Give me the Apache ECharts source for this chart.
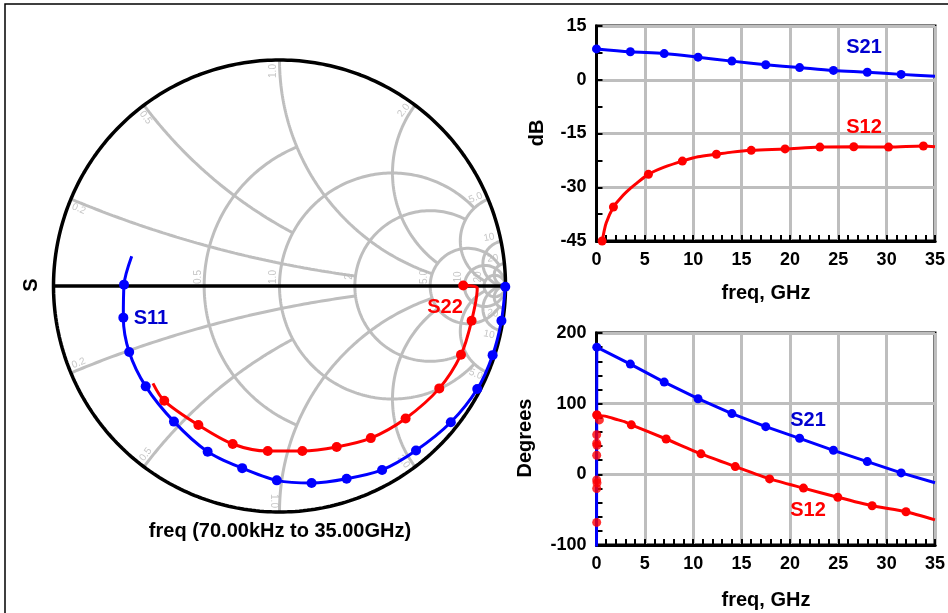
<!DOCTYPE html>
<html><head><meta charset="utf-8">
<script src="https://cdn.jsdelivr.net/npm/echarts@6.0.0/dist/echarts.min.js"></script>
<style>html,body{margin:0;padding:0;background:#fff}#c{width:948px;height:613px}</style>
</head><body><div id="c"></div>
<script>
// ---------------- DATA ----------------
// Smith chart grid values
const resistanceValues = [0.5, 1, 2, 5, 10, 20];
const resistanceReactLimit = [1, 5, 5, 20, Infinity, Infinity];
const reactanceValues = [0.2, 0.5, 1, 2, 5, 10, 20];
const reactanceResLimit = [2, 1, 5, 5, 20, Infinity, Infinity];
const resistanceLabels = ['0.5', '1.0', '2', '5.0', '10', '20'];
const reactanceLabels = ['0.2', '0.5', '1.0', '2.0', '5.0', '10', '20'];

// S11 (reflection coefficient, real / imaginary)
const s11Re = [-0.654, -0.688, -0.691, -0.665, -0.592, -0.467, -0.318, -0.165, -0.012, 0.142, 0.297, 0.454, 0.604, 0.758, 0.875, 0.943, 0.982, 0.999];
const s11Im = [0.132, 0.006, -0.140, -0.292, -0.444, -0.600, -0.733, -0.806, -0.860, -0.872, -0.853, -0.814, -0.728, -0.603, -0.456, -0.306, -0.154, -0.003];
const s11Mark = [0, 1, 1, 1, 1, 1, 1, 1, 1, 1, 1, 1, 1, 1, 1, 1, 1, 1];
// S22
const s22Re = [0.813, 0.875, 0.850, 0.803, 0.707, 0.558, 0.404, 0.253, 0.101, -0.052, -0.207, -0.359, -0.510, -0.560];
const s22Im = [0.002, -0.009, -0.154, -0.304, -0.453, -0.586, -0.673, -0.712, -0.730, -0.730, -0.699, -0.615, -0.508, -0.431];
const s22Mark = [1, 0, 1, 1, 1, 1, 1, 1, 1, 1, 1, 1, 1, 0];

// dB chart
const s21dBFreq = [0, 3.5, 7, 10.5, 14, 17.5, 21, 24.5, 28, 31.5, 35];
const s21dB = [8.6, 7.8, 7.3, 6.3, 5.2, 4.2, 3.4, 2.6, 2.1, 1.5, 1.0];
const s21dBMark = [1, 1, 1, 1, 1, 1, 1, 1, 1, 1, 0];
const s12dBFreq = [0.45, 0.58, 1.0, 1.75, 2.5, 3.1, 4.0, 5.37, 7.0, 8.88, 10.5, 12.4, 14.0, 16.0, 19.5, 23.1, 26.6, 30.2, 33.8, 35];
const s12dB = [-46.5, -45, -40, -35.5, -33, -31.3, -29.2, -26.4, -24.4, -22.7, -21.5, -20.8, -20.2, -19.7, -19.3, -18.8, -18.7, -18.8, -18.5, -18.7];
const s12dBMark = [0, 1, 0, 1, 0, 0, 0, 1, 0, 1, 0, 1, 0, 1, 1, 1, 1, 1, 1, 0];

// Phase chart
const s21PhFreq = [0, 0.03, 3.5, 7, 10.5, 14, 17.5, 21, 24.5, 28, 31.5, 35];
const s21Ph = [-130, 180, 156, 130.5, 107, 86, 67.5, 51, 34, 18, 2, -12];
const s21PhMark = [0, 1, 1, 1, 1, 1, 1, 1, 1, 1, 1, 0];
const s12PhFreq = [0.05, 0.5, 1.0, 2.0, 3.0, 3.6, 7.2, 10.8, 14.35, 17.9, 21.4, 24.95, 28.5, 32, 35];
const s12Ph = [84, 83, 82, 78, 74, 70, 50, 29, 11, -6.5, -19.5, -32.5, -44.5, -53, -64.5];
const s12PhMark = [1, 0, 0, 0, 0, 1, 1, 1, 1, 1, 1, 1, 1, 1, 0];
const s12PhLowFreq = [0.02, 0.3, 0.02, 0.02, 0.05, 0.02, 0.02, 0.05, 0.02, 0.02];
const s12PhLow = [84, 77, 56, 44, 41, 27, -8, -12, -20, -68];

const dBTicks = [-45, -30, -15, 0, 15];
const degTicks = [-100, 0, 100, 200];
const freqTicks = [0, 5, 10, 15, 20, 25, 30, 35];

// ---------------- HELPERS ----------------
const BLUE = '#0000ff', RED = '#ff0000', GRAY = '#bebebe';
const FONT = '"Liberation Sans", Arial, sans-serif';
function gammaOf(r, x) { // (z-1)/(z+1)
  const a = r - 1, b = x, c = r + 1, d = x, den = c * c + d * d;
  return [(a * c + b * d) / den, (b * c - a * d) / den];
}
function zOf(gr, gi) {
  const den = (1 - gr) * (1 - gr) + gi * gi;
  return [(1 - gr * gr - gi * gi) / den, 2 * gi / den];
}
const N = 2000;
function resistanceArc(r, xlim) {
  const c = r / (1 + r), rad = 1 / (1 + r), pts = [];
  if (isFinite(xlim)) pts.push(gammaOf(r, xlim)); else pts.push([1, 0]);
  for (let i = 1; i < N; i++) {
    const p = i / N * 2 * Math.PI, gr = c + rad * Math.cos(p), gi = rad * Math.sin(p);
    if (Math.abs(zOf(gr, gi)[1]) <= xlim) pts.push([gr, gi]);
  }
  if (isFinite(xlim)) pts.push(gammaOf(r, -xlim)); else pts.push([1, 0]);
  return pts;
}
function reactanceArc(x, rlim) {
  const ax = Math.abs(x), rad = 1 / ax, pts = [gammaOf(0, ax)];
  for (let i = 1; i < N; i++) {
    const p = -Math.PI / 2 + i / N * 2 * Math.PI;
    const gr = 1 + rad * Math.cos(p), gi = 1 / ax + rad * Math.sin(p);
    if (gr * gr + gi * gi <= 1 && zOf(gr, gi)[0] <= rlim) pts.push([gr, gi]);
  }
  pts.push(isFinite(rlim) ? gammaOf(rlim, ax) : [1, 0]);
  return x < 0 ? pts.map(p => [p[0], -p[1]]) : pts;
}

const series = [];
const smithLine = (data, color, width, z) => ({
  type: 'line', xAxisIndex: 0, yAxisIndex: 0, data, showSymbol: false, silent: true,
  clip: false, animation: false, z, lineStyle: { color, width }
});
resistanceValues.forEach((r, i) => series.push(smithLine(resistanceArc(r, resistanceReactLimit[i]), GRAY, 3, 1)));
reactanceValues.forEach((x, i) => {
  series.push(smithLine(reactanceArc(x, reactanceResLimit[i]), GRAY, 3, 1));
  series.push(smithLine(reactanceArc(-x, reactanceResLimit[i]), GRAY, 3, 1));
});
// outer circle & real axis
const unit = [];
for (let i = 0; i <= 720; i++) unit.push([Math.cos(i / 720 * 2 * Math.PI), Math.sin(i / 720 * 2 * Math.PI)]);
series.push(smithLine(unit, '#000', 3.5, 2));
series.push(smithLine([[-1, 0], [1, 0]], '#000', 3.5, 2));

// Smith labels
const labelData = [];
const px = 1 / 226;
resistanceValues.forEach((r, i) => {
  const g = gammaOf(r, 0);
  labelData.push({ value: [g[0] - 6 * px, g[1] + 9 * px], label: { formatter: resistanceLabels[i], rotate: 90 } });
});
reactanceValues.forEach((x, i) => {
  [1, -1].forEach(s => {
    const g = gammaOf(0, s * x);
    const th = Math.atan2(g[1], g[0]);
    const deg = th * 180 / Math.PI;
    const rot = deg > 90 ? deg - 180 : (deg < -90 ? deg + 180 : deg);
    const rin = 1 - 11 * px;
    const side = 6 * px * s;
    const tx = -Math.sin(th), ty = Math.cos(th);
    labelData.push({ value: [rin * Math.cos(th) + side * tx, rin * Math.sin(th) + side * ty], label: { formatter: reactanceLabels[i], rotate: rot } });
  });
});
series.push({
  type: 'scatter', xAxisIndex: 0, yAxisIndex: 0, data: labelData, symbolSize: 0, silent: true, animation: false, z: 1,
  label: { show: true, position: 'inside', color: '#b8b8b8', fontSize: 10, fontFamily: FONT }
});

function traceData(xs, ys, marks) {
  return xs.map((v, i) => ({ value: [v, ys[i]], symbol: marks[i] ? 'circle' : 'none' }));
}
function trace(xi, yi, data, color, size, smooth) {
  return {
    type: 'line', xAxisIndex: xi, yAxisIndex: yi, data, showSymbol: true, showAllSymbol: true,
    symbolSize: size, smooth: smooth, animation: false, z: 5, clip: xi !== 0,
    lineStyle: { color, width: 3 }, itemStyle: { color, borderWidth: 0 }
  };
}
series.push(trace(0, 0, traceData(s11Re, s11Im, s11Mark), BLUE, 10, 0.3));
series.push(trace(0, 0, traceData(s22Re, s22Im, s22Mark), RED, 10, 0.3));
series.push(trace(1, 1, traceData(s21dBFreq, s21dB, s21dBMark), BLUE, 9, 0.3));
series.push(trace(1, 1, traceData(s12dBFreq, s12dB, s12dBMark), RED, 9, 0.3));
series.push(trace(2, 2, traceData(s21PhFreq, s21Ph, s21PhMark), BLUE, 9, 0));
series.push(trace(2, 2, traceData(s12PhFreq, s12Ph, s12PhMark), RED, 9, 0.2));
series.push({
  type: 'scatter', xAxisIndex: 2, yAxisIndex: 2, data: s12PhLowFreq.map((f, i) => [f, s12PhLow[i]]),
  symbolSize: 9, itemStyle: { color: RED }, animation: false, z: 6
});

const axisLabelStyle = { color: '#000', fontSize: 18, fontWeight: 'bold', fontFamily: FONT, margin: 10 };
function freqAxis(gi) {
  return {
    type: 'value', gridIndex: gi, min: freqTicks[0], max: freqTicks[freqTicks.length - 1], interval: 5,
    axisLine: { show: true, onZero: false, lineStyle: { color: '#000', width: 3 } },
    axisTick: { show: true, inside: true, length: 6, lineStyle: { color: '#000', width: 2 } },
    minorTick: { show: true, splitNumber: 5, length: 6, lineStyle: { color: '#000', width: 2 } },
    splitLine: { show: true, lineStyle: { color: GRAY, width: 3 } },
    axisLabel: axisLabelStyle
  };
}
function valAxis(gi, ticks, minorSplit) {
  return {
    type: 'value', gridIndex: gi, min: ticks[0], max: ticks[ticks.length - 1], interval: ticks[1] - ticks[0],
    axisLine: { show: true, onZero: false, lineStyle: { color: '#000', width: 3 } },
    axisTick: { show: true, inside: true, length: 6, lineStyle: { color: '#000', width: 2 } },
    minorTick: { show: true, splitNumber: minorSplit, length: 6, lineStyle: { color: '#000', width: 2 } },
    splitLine: { show: true, lineStyle: { color: GRAY, width: 3 } },
    axisLabel: axisLabelStyle
  };
}
const hidden = { type: 'value', min: -1, max: 1, show: false, gridIndex: 0 };

const txt = (text, x, y, color, size, opts = {}) => Object.assign({
  type: 'text', x, y, z: 100,
  style: { text, fill: color, font: 'bold ' + size + 'px ' + FONT, textAlign: 'center', textVerticalAlign: 'middle', align: 'center', verticalAlign: 'middle' }
}, opts);

const option = {
  animation: false,
  backgroundColor: '#fff',
  grid: [
    { left: 53.5, top: 60, width: 452, height: 452 },
    { left: 596.5, top: 26, width: 339, height: 215, show: true, borderColor: '#000', borderWidth: 3 },
    { left: 596.5, top: 333, width: 339, height: 212, show: true, borderColor: '#000', borderWidth: 3 }
  ],
  xAxis: [hidden, freqAxis(1), freqAxis(2)],
  yAxis: [Object.assign({}, hidden), valAxis(1, dBTicks, 2), valAxis(2, degTicks, 5)],
  series,
  graphic: [
    { type: 'rect', shape: { x: 5, y: 4, width: 1000, height: 1000 }, style: { fill: 'none', stroke: '#000', lineWidth: 1.5 }, z: 100 },
    txt('S', 31, 285, '#000', 20, { rotation: Math.PI / 2 }),
    txt('freq (70.00kHz to 35.00GHz)', 280, 531, '#000', 20),
    txt('S11', 151, 318, '#0000d0', 20),
    txt('S22', 445, 307, RED, 20),
    txt('S21', 864, 47, '#0000d0', 20),
    txt('S12', 864, 127, RED, 20),
    txt('S21', 808, 420, '#0000d0', 20),
    txt('S12', 808, 510, RED, 20),
    txt('dB', 537, 133, '#000', 20, { rotation: Math.PI / 2 }),
    txt('Degrees', 525, 438, '#000', 20, { rotation: Math.PI / 2 }),
    txt('freq, GHz', 766, 293, '#000', 20),
    txt('freq, GHz', 766, 600, '#000', 20)
  ]
};
const chart = echarts.init(document.getElementById('c'), null, { renderer: 'canvas' });
chart.setOption(option);
</script>
</body></html>
